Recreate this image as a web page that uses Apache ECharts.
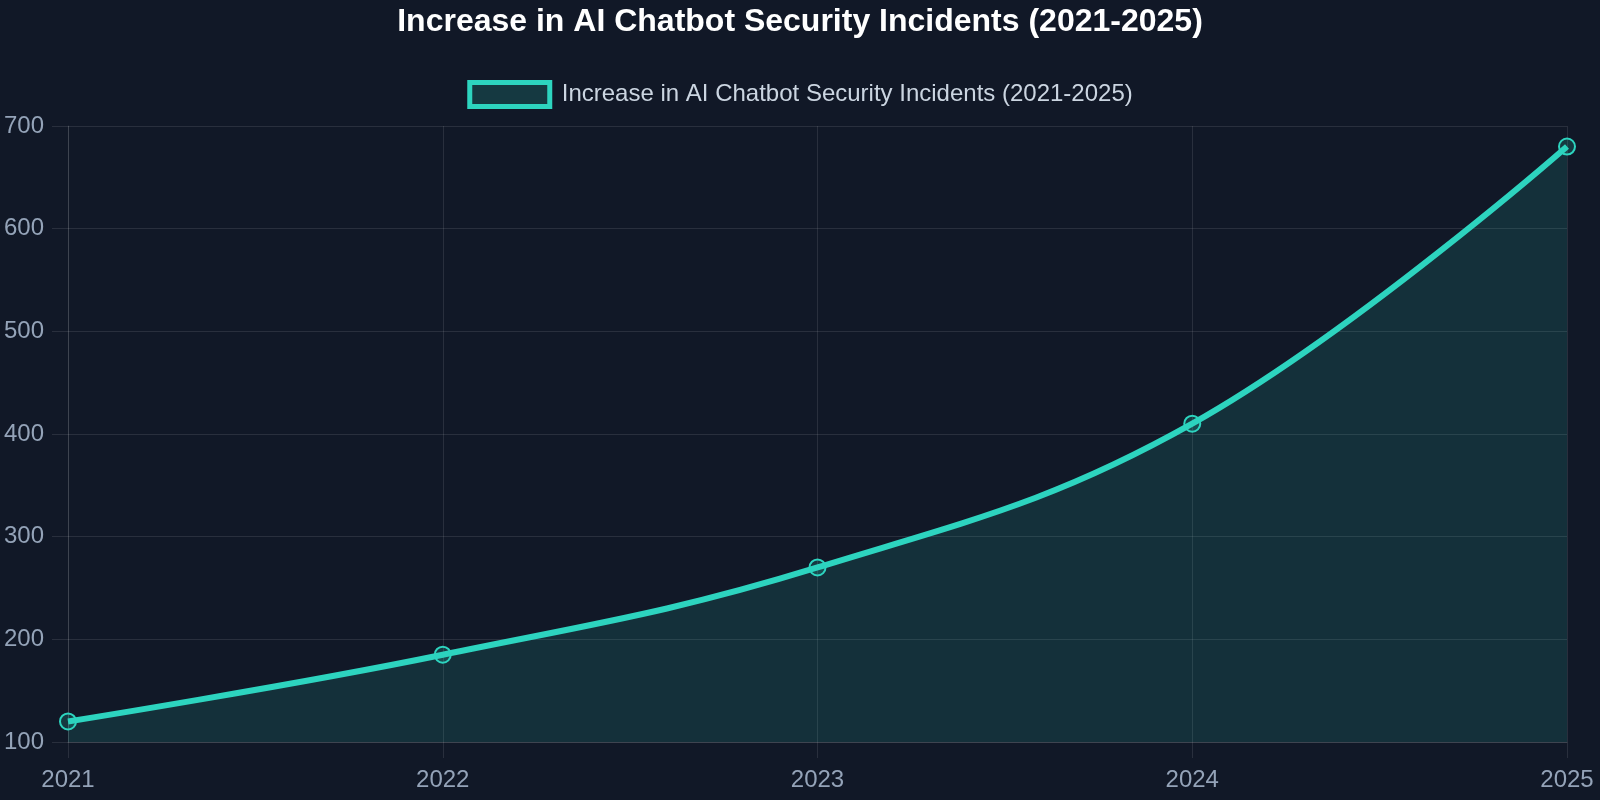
<!DOCTYPE html>
<html>
<head>
<meta charset="utf-8">
<script src="https://cdn.jsdelivr.net/npm/echarts@6/dist/echarts.min.js"></script>
<style>
  html, body { margin: 0; padding: 0; background: #111827; }
  #chart { width: 1600px; height: 800px; }
</style>
</head>
<body>
<div id="chart"></div>
<script>
// data
const years = ['2021', '2022', '2023', '2024', '2025'];
const incidents = [120, 185, 270, 410, 680];
const seriesName = 'Increase in AI Chatbot Security Incidents (2021-2025)';

const teal = '#2dd4bf';
const gridCol = 'rgba(255,255,255,0.1)';
const font = '"Liberation Sans", Arial, sans-serif';

const chart = echarts.init(document.getElementById('chart'));
chart.setOption({
  backgroundColor: '#111827',
  animation: false,
  title: {
    text: seriesName,
    left: 'center',
    top: 1,
    textStyle: { color: '#ffffff', fontSize: 32, fontWeight: 'bold', fontFamily: font }
  },
  legend: {
    top: 75,
    left: 'center',
    itemWidth: 80,
    itemHeight: 24,
    itemGap: 10,
    icon: 'rect',
    itemStyle: { color: 'rgba(45,212,191,0.18)', borderColor: teal, borderWidth: 5 },
    textStyle: { color: '#cbd5e1', fontSize: 24, fontFamily: font, padding: [0, 0, 0, 7] },
    data: [seriesName]
  },
  grid: { left: 68, right: 33, top: 126, bottom: 58 },
  xAxis: {
    type: 'category',
    data: years,
    boundaryGap: false,
    axisLine: { lineStyle: { color: gridCol } },
    axisTick: { show: true, length: 16, lineStyle: { color: gridCol } },
    axisLabel: { color: '#94a3b8', fontSize: 24, fontFamily: font, margin: 26 },
    splitLine: { show: true, lineStyle: { color: gridCol } }
  },
  yAxis: {
    type: 'value',
    min: 100,
    max: 700,
    interval: 100,
    axisLine: { show: true, lineStyle: { color: gridCol } },
    axisTick: { show: true, length: 16, lineStyle: { color: gridCol } },
    axisLabel: { color: '#94a3b8', fontSize: 24, fontFamily: font, margin: 24 },
    splitLine: { show: true, lineStyle: { color: gridCol } }
  },
  series: [{
    name: seriesName,
    type: 'line',
    data: incidents,
    smooth: 0.4,
    symbol: 'circle',
    symbolSize: 16,
    lineStyle: { color: teal, width: 6 },
    itemStyle: { color: 'rgba(45,212,191,0.18)', borderColor: teal, borderWidth: 2 },
    areaStyle: { color: 'rgba(45,212,191,0.18)', origin: 'start' }
  }]
});
</script>
</body>
</html>
